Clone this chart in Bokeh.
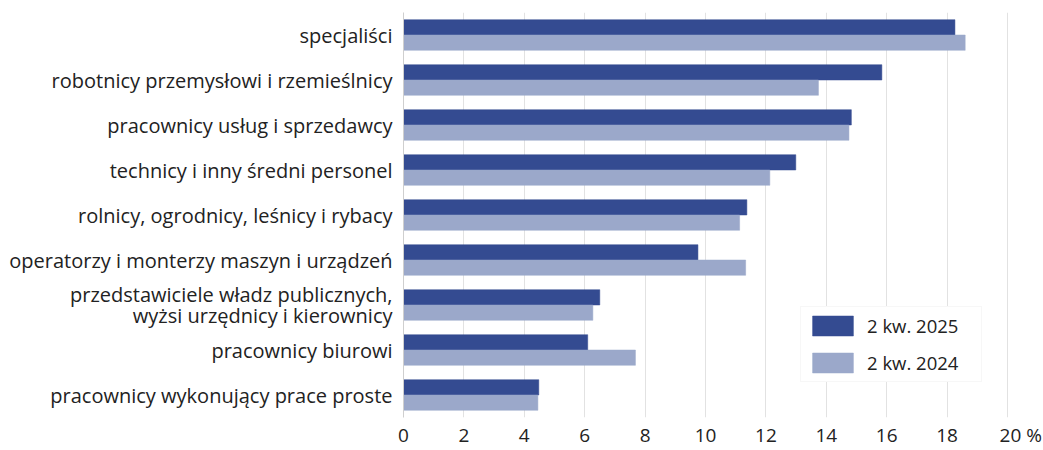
from bokeh.plotting import figure
from bokeh.models import FactorRange, ColumnDataSource, CustomJSTickFormatter, FixedTicker, Legend, LegendItem
from bokeh.transform import dodge
from bokeh.embed import file_html
from bokeh.resources import INLINE

categories = [
    "specjaliści",
    "robotnicy przemysłowi i rzemieślnicy",
    "pracownicy usług i sprzedawcy",
    "technicy i inny średni personel",
    "rolnicy, ogrodnicy, leśnicy i rybacy",
    "operatorzy i monterzy maszyn i urządzeń",
    "przedstawiciele władz publicznych,\nwyżsi urzędnicy i kierownicy",
    "pracownicy biurowi",
    "pracownicy wykonujący prace proste",
]
q2_2025 = [18.26, 15.84, 14.83, 12.99, 11.37, 9.75, 6.50, 6.10, 4.48]
q2_2024 = [18.60, 13.74, 14.75, 12.13, 11.13, 11.33, 6.27, 7.68, 4.45]
series_names = ["2 kw. 2025", "2 kw. 2024"]
x_ticks = [0, 2, 4, 6, 8, 10, 12, 14, 16, 18, 20]

DARK = "#344b91"
LIGHT = "#9ba8ca"
FONT = "Open Sans"
TXT = "#222222"

src = ColumnDataSource(dict(cat=categories, a=q2_2025, b=q2_2024))

p = figure(
    width=1043, height=450,
    y_range=FactorRange(*reversed(categories)),
    x_range=(0, 20.1),
    output_backend="svg", toolbar_location=None,
    min_border_left=403, min_border_right=33, min_border_top=12, min_border_bottom=31,
)
p.outline_line_color = None

r1 = p.hbar(y=dodge("cat", 0.17, range=p.y_range), right="a", left=0, height=0.34,
            source=src, fill_color=DARK, line_color=DARK, line_width=0.5)
r2 = p.hbar(y=dodge("cat", -0.17, range=p.y_range), right="b", left=0, height=0.34,
            source=src, fill_color=LIGHT, line_color=LIGHT, line_width=0.5)

p.xaxis.ticker = FixedTicker(ticks=x_ticks)
p.xaxis.formatter = CustomJSTickFormatter(code="return tick == 20 ? '\u2007\u2007 20 %' : String(tick);")
p.xaxis.axis_line_color = None
p.xaxis.major_tick_line_color = None
p.xaxis.minor_tick_line_color = None
p.xaxis.major_tick_out = 0
p.xaxis.major_label_standoff = 4
p.xaxis.major_label_text_font = FONT
p.xaxis.major_label_text_font_size = "19px"
p.xaxis.major_label_text_line_height = 1.0
p.xaxis.major_label_text_color = TXT

p.yaxis.axis_line_color = "#cfcfcf"
p.yaxis.major_tick_line_color = None
p.yaxis.minor_tick_line_color = None
p.yaxis.major_tick_out = 0
p.yaxis.major_label_standoff = 11
p.yaxis.major_label_text_font = FONT
p.yaxis.major_label_text_font_size = "20px"
p.yaxis.major_label_text_line_height = 0.8
p.yaxis.major_label_text_color = TXT

p.xgrid.grid_line_color = "#e2e2e2"
p.ygrid.grid_line_color = None

legend = Legend(
    items=[LegendItem(label=series_names[0], renderers=[r1]),
           LegendItem(label=series_names[1], renderers=[r2])],
    location=(397, 35),
    glyph_width=51, glyph_height=25, spacing=12, padding=6, margin=0,
    label_standoff=9, label_width=108,
    label_text_font=FONT, label_text_font_size="18.5px", label_text_color=TXT,
    border_line_color="#f0f0f0", background_fill_color="white", background_fill_alpha=1,
)
p.add_layout(legend, "center")

open("out.html", "w").write(file_html(p, INLINE))
